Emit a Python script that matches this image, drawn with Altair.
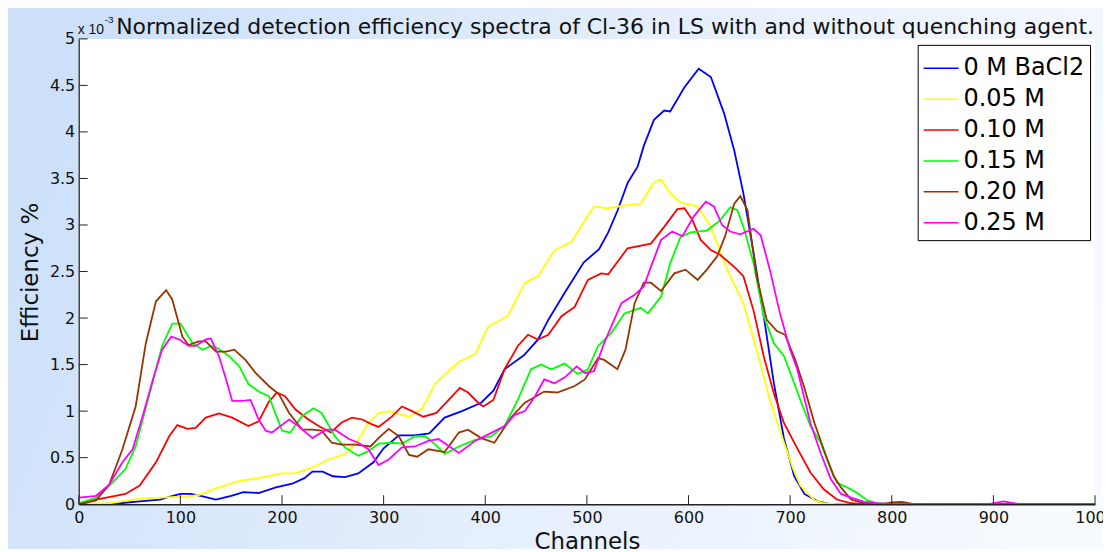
import altair as alt
import pandas as pd

series = ["0 M BaCl2", "0.05 M", "0.10 M", "0.15 M", "0.20 M", "0.25 M"]
colors = ["#0000ff", "#ffff00", "#ff0000", "#00ff00", "#993300", "#ff00ff"]

blue_ch = [0, 20, 40, 60, 80, 90, 100, 110, 120, 135, 150, 162, 177, 194, 210, 222, 230, 240, 250, 262, 275, 290, 300, 315,
           330, 345, 360, 377, 396, 408, 419, 438, 452, 462, 478, 497, 512, 521, 530, 540, 550, 556, 566, 576, 582, 596,
           610, 622, 635, 645, 654, 664, 674, 684, 694, 704, 714, 727, 740, 1000]
blue_val = [0, 0, 0.01, 0.03, 0.05, 0.08, 0.11, 0.11, 0.09, 0.05, 0.09, 0.13, 0.12, 0.18, 0.22, 0.28, 0.35, 0.35, 0.30, 0.29,
            0.33, 0.45, 0.60, 0.74, 0.74, 0.76, 0.93, 1.00, 1.09, 1.22, 1.45, 1.60, 1.77, 1.98, 2.27, 2.60, 2.74, 2.92,
            3.15, 3.45, 3.63, 3.85, 4.13, 4.23, 4.22, 4.48, 4.68, 4.59, 4.20, 3.80, 3.34, 2.70, 2.02, 1.30, 0.70, 0.30,
            0.11, 0.03, 0, 0]

yellow_ch = [0, 30, 60, 79, 106, 119, 138, 158, 177, 200, 213, 233, 246, 262, 275, 285, 295, 305, 325, 338, 351, 374, 390,
             403, 422, 439, 452, 468, 485, 498, 507, 520, 543, 553, 566, 573, 582, 592, 609, 622, 638, 654, 667, 680, 694,
             703, 710, 724, 733, 745, 1000]
yellow_val = [0, 0.01, 0.06, 0.07, 0.08, 0.10, 0.18, 0.25, 0.28, 0.33, 0.33, 0.41, 0.48, 0.54, 0.69, 0.87, 0.98, 1.00, 0.94,
              1.03, 1.30, 1.53, 1.61, 1.91, 2.02, 2.38, 2.45, 2.73, 2.82, 3.05, 3.20, 3.18, 3.22, 3.23, 3.46, 3.49, 3.34,
              3.24, 3.20, 2.98, 2.52, 2.16, 1.66, 1.12, 0.66, 0.38, 0.20, 0.04, 0.01, 0, 0]

red_ch = [0, 17, 46, 60, 76, 89, 97, 107, 115, 125, 138, 151, 167, 177, 187, 195, 203, 213, 226, 236, 248, 259, 269, 279,
          288, 295, 308, 318, 328, 339, 352, 364, 375, 383, 393, 398, 408, 419, 432, 442, 452, 462, 475, 488, 501, 514,
          521, 540, 563, 576, 589, 596, 604, 612, 622, 631, 645, 654, 664, 674, 684, 694, 707, 720, 733, 746, 760, 775,
          1000]
red_val = [0, 0.05, 0.11, 0.20, 0.45, 0.73, 0.85, 0.81, 0.82, 0.93, 0.975, 0.93, 0.84, 0.89, 1.10, 1.20, 1.16, 1.02, 0.91,
           0.84, 0.77, 0.88, 0.93, 0.91, 0.86, 0.83, 0.94, 1.05, 1.00, 0.94, 0.98, 1.12, 1.25, 1.20, 1.09, 1.05, 1.12,
           1.45, 1.70, 1.82, 1.77, 1.82, 2.02, 2.12, 2.41, 2.48, 2.47, 2.75, 2.80, 2.98, 3.17, 3.18, 3.05, 2.84, 2.73,
           2.68, 2.55, 2.45, 2.08, 1.59, 1.19, 0.87, 0.60, 0.34, 0.16, 0.05, 0.01, 0, 0]

green_ch = [0, 17, 33, 46, 56, 69, 82, 92, 100, 112, 122, 130, 136, 148, 158, 167, 177, 187, 200, 208, 220, 231, 239, 252,
            262, 275, 285, 295, 308, 318, 331, 341, 351, 360, 374, 390, 406, 419, 432, 445, 455, 465, 478, 491, 501, 511,
            524, 537, 553, 560, 573, 582, 592, 602, 618, 631, 641, 648, 654, 664, 674, 684, 694, 704, 710, 720, 730, 740,
            746, 756, 766, 776, 786, 800, 1000]
green_val = [0.01, 0.07, 0.23, 0.38, 0.62, 1.16, 1.70, 1.94, 1.94, 1.73, 1.66, 1.70, 1.68, 1.59, 1.48, 1.29, 1.21, 1.16,
             0.79, 0.77, 0.95, 1.03, 0.98, 0.73, 0.61, 0.52, 0.57, 0.65, 0.66, 0.65, 0.73, 0.73, 0.64, 0.54, 0.62, 0.69,
             0.73, 0.84, 1.12, 1.45, 1.50, 1.45, 1.51, 1.40, 1.45, 1.70, 1.84, 2.05, 2.11, 2.05, 2.23, 2.59, 2.87, 2.92,
             2.94, 3.05, 3.19, 3.16, 2.98, 2.59, 2.02, 1.73, 1.59, 1.30, 1.12, 0.84, 0.66, 0.37, 0.23, 0.18, 0.12, 0.04,
             0.01, 0, 0]

brown_ch = [0, 17, 30, 43, 56, 66, 76, 86, 92, 102, 108, 118, 125, 135, 145, 153, 164, 174, 187, 197, 207, 220, 230, 239,
            249, 259, 272, 287, 295, 305, 315, 325, 333, 344, 360, 374, 383, 396, 409, 426, 439, 458, 471, 488, 498, 511,
            517, 530, 538, 547, 556, 563, 573, 586, 597, 609, 618, 628, 636, 645, 651, 658, 667, 677, 687, 695, 705, 714,
            724, 733, 743, 750, 760, 773, 790, 800, 810, 822, 1000]
brown_val = [0, 0.04, 0.21, 0.59, 1.05, 1.73, 2.18, 2.30, 2.20, 1.80, 1.71, 1.75, 1.75, 1.64, 1.64, 1.66, 1.55, 1.41, 1.27,
             1.18, 0.98, 0.80, 0.80, 0.79, 0.66, 0.64, 0.64, 0.62, 0.71, 0.81, 0.73, 0.53, 0.51, 0.59, 0.56, 0.77, 0.80,
             0.71, 0.66, 0.94, 1.09, 1.21, 1.20, 1.27, 1.34, 1.57, 1.55, 1.45, 1.66, 2.16, 2.38, 2.38, 2.29, 2.48, 2.52,
             2.41, 2.52, 2.66, 2.88, 3.23, 3.31, 3.16, 2.45, 1.98, 1.86, 1.82, 1.55, 1.25, 0.87, 0.59, 0.30, 0.18, 0.05,
             0.01, 0, 0.02, 0.025, 0, 0]

magenta_ch = [0, 10, 17, 30, 43, 53, 63, 73, 82, 91, 99, 108, 115, 125, 130, 138, 145, 151, 161, 169, 177, 184, 190, 207,
              216, 230, 243, 252, 266, 275, 285, 295, 305, 318, 331, 344, 354, 374, 390, 403, 419, 429, 439, 449, 458,
              468, 478, 490, 498, 507, 517, 524, 534, 547, 556, 563, 573, 584, 594, 605, 617, 625, 633, 641, 651, 664,
              671, 680, 690, 700, 707, 720, 730, 740, 750, 760, 773, 786, 800, 895, 910, 925, 1000]
magenta_val = [0.07, 0.08, 0.09, 0.21, 0.45, 0.59, 0.95, 1.34, 1.66, 1.80, 1.77, 1.70, 1.70, 1.77, 1.78, 1.59, 1.34, 1.11,
               1.11, 1.12, 0.91, 0.79, 0.77, 0.91, 0.84, 0.71, 0.80, 0.80, 0.70, 0.66, 0.59, 0.42, 0.48, 0.61, 0.62, 0.68,
               0.70, 0.55, 0.68, 0.75, 0.84, 0.96, 1.00, 1.16, 1.34, 1.30, 1.36, 1.48, 1.41, 1.43, 1.73, 1.91, 2.16,
               2.25, 2.34, 2.55, 2.84, 2.93, 2.88, 3.09, 3.25, 3.20, 3.00, 2.93, 2.90, 2.96, 2.89, 2.52, 2.05, 1.66, 1.45,
               0.87, 0.55, 0.27, 0.11, 0.07, 0.025, 0.01, 0, 0, 0.03, 0, 0]

x_ticks = [0, 100, 200, 300, 400, 500, 600, 700, 800, 900, 1000]
y_ticks = [0, 0.5, 1, 1.5, 2, 2.5, 3, 3.5, 4, 4.5, 5]

all_ch = [blue_ch, yellow_ch, red_ch, green_ch, brown_ch, magenta_ch]
all_val = [blue_val, yellow_val, red_val, green_val, brown_val, magenta_val]
rows = []
for i, (name, chs, vals) in enumerate(zip(series, all_ch, all_val)):
    for c, v in zip(chs, vals):
        rows.append({"series": name, "channel": c, "eff": v, "k": i})
df = pd.DataFrame(rows)

W, H = 1020, 467
FONT = "DejaVu Sans"
FONT2 = "Liberation Sans"

x_scale = alt.Scale(domain=[0, 1000], nice=False, zero=False)
y_scale = alt.Scale(domain=[0, 5], nice=False, zero=False)

x_axis = alt.Axis(values=x_ticks, format="d", ticks=False, tickSize=0, grid=False, labelFontSize=16, labelFont=FONT,
                  labelColor="#111", labelPadding=5, labelFlush=False, labelOverlap=False, domainColor="#222",
                  domainWidth=1.5, title="Channels", titleFont=FONT, titleFontSize=23, titleFontWeight="normal",
                  titleColor="#111", titleX=510, titleY=44, titleAlign="center", titleBaseline="alphabetic", zindex=1)
y_axis = alt.Axis(values=y_ticks, labelExpr="'' + datum.value", ticks=False, tickSize=0, grid=False, labelFontSize=16,
                  labelFont=FONT, labelColor="#111", labelPadding=4, labelFlush=False, labelOverlap=False,
                  domainColor="#444", domainWidth=1.5, title="Efficiency %", titleFont=FONT, titleFontSize=23,
                  titleFontWeight="normal", titleColor="#111", titleAngle=270, titleX=-41, titleY=234,
                  titleAlign="center", titleBaseline="alphabetic", zindex=1)

one = alt.Data(values=[{"a": 1}])

bg = alt.Chart(one).mark_rect(
    fill=alt.LinearGradient(gradient="linear",
                            stops=[alt.GradientStop(color="#cce0fa", offset=0),
                                   alt.GradientStop(color="#e4eefc", offset=0.5),
                                   alt.GradientStop(color="#f7faff", offset=1)],
                            x1=0, y1=0.4, x2=1, y2=0.6),
    strokeWidth=0,
).encode(x=alt.value(-80), x2=alt.value(1040), y=alt.value(-40), y2=alt.value(520))

white = alt.Chart(one).mark_rect(fill="white", strokeWidth=0).encode(
    x=alt.value(0), x2=alt.value(W), y=alt.value(0), y2=alt.value(H))

lines = alt.Chart(df).mark_line(strokeWidth=1.8, clip=True).encode(
    x=alt.X("channel:Q", scale=x_scale, axis=x_axis),
    y=alt.Y("eff:Q", scale=y_scale, axis=y_axis),
    color=alt.Color("series:N", scale=alt.Scale(domain=series, range=colors),
                    legend=alt.Legend(title=None, orient="none", legendX=842, legendY=6, symbolType="stroke",
                                      symbolSize=1225, symbolStrokeWidth=1.5, labelFontSize=24, labelFont=FONT,
                                      labelColor="black", labelOffset=4, padding=5, rowPadding=0,
                                      strokeColor="black", fillColor="white", labelLimit=400)),
    order=alt.Order("channel:Q"),
)

xt = alt.Chart(pd.DataFrame({"channel": x_ticks})).mark_rule(color="#222", strokeWidth=1).encode(
    x=alt.X("channel:Q", scale=x_scale, axis=x_axis), y=alt.value(H), y2=alt.value(H - 9))
yt = alt.Chart(pd.DataFrame({"eff": y_ticks})).mark_rule(color="#222", strokeWidth=1).encode(
    y=alt.Y("eff:Q", scale=y_scale, axis=y_axis), x=alt.value(0), x2=alt.value(9))

expo = alt.Chart(one).mark_text(text="x 10", fontSize=14, font=FONT2, align="left", baseline="alphabetic",
                                color="#111").encode(x=alt.value(-1), y=alt.value(-5))
expo2 = alt.Chart(one).mark_text(text="-3", fontSize=10, font=FONT2, align="left", baseline="alphabetic",
                                 color="#111").encode(x=alt.value(26), y=alt.value(-16))
title = alt.Chart(one).mark_text(
    text="Normalized detection efficiency spectra of Cl-36 in LS with and without quenching agent.",
    fontSize=22, font=FONT, align="right", baseline="alphabetic", color="#111").encode(
    x=alt.value(1019), y=alt.value(-5))

chart = alt.layer(bg, white, lines, xt, yt, expo, expo2, title).properties(
    width=W, height=H, autosize="none",
    padding={"left": 71, "top": 30, "right": 8, "bottom": 44},
    background="#e4eefc",
).configure_view(stroke=None)

chart.save("out.html", embed_options={"renderer": "svg", "actions": False})
